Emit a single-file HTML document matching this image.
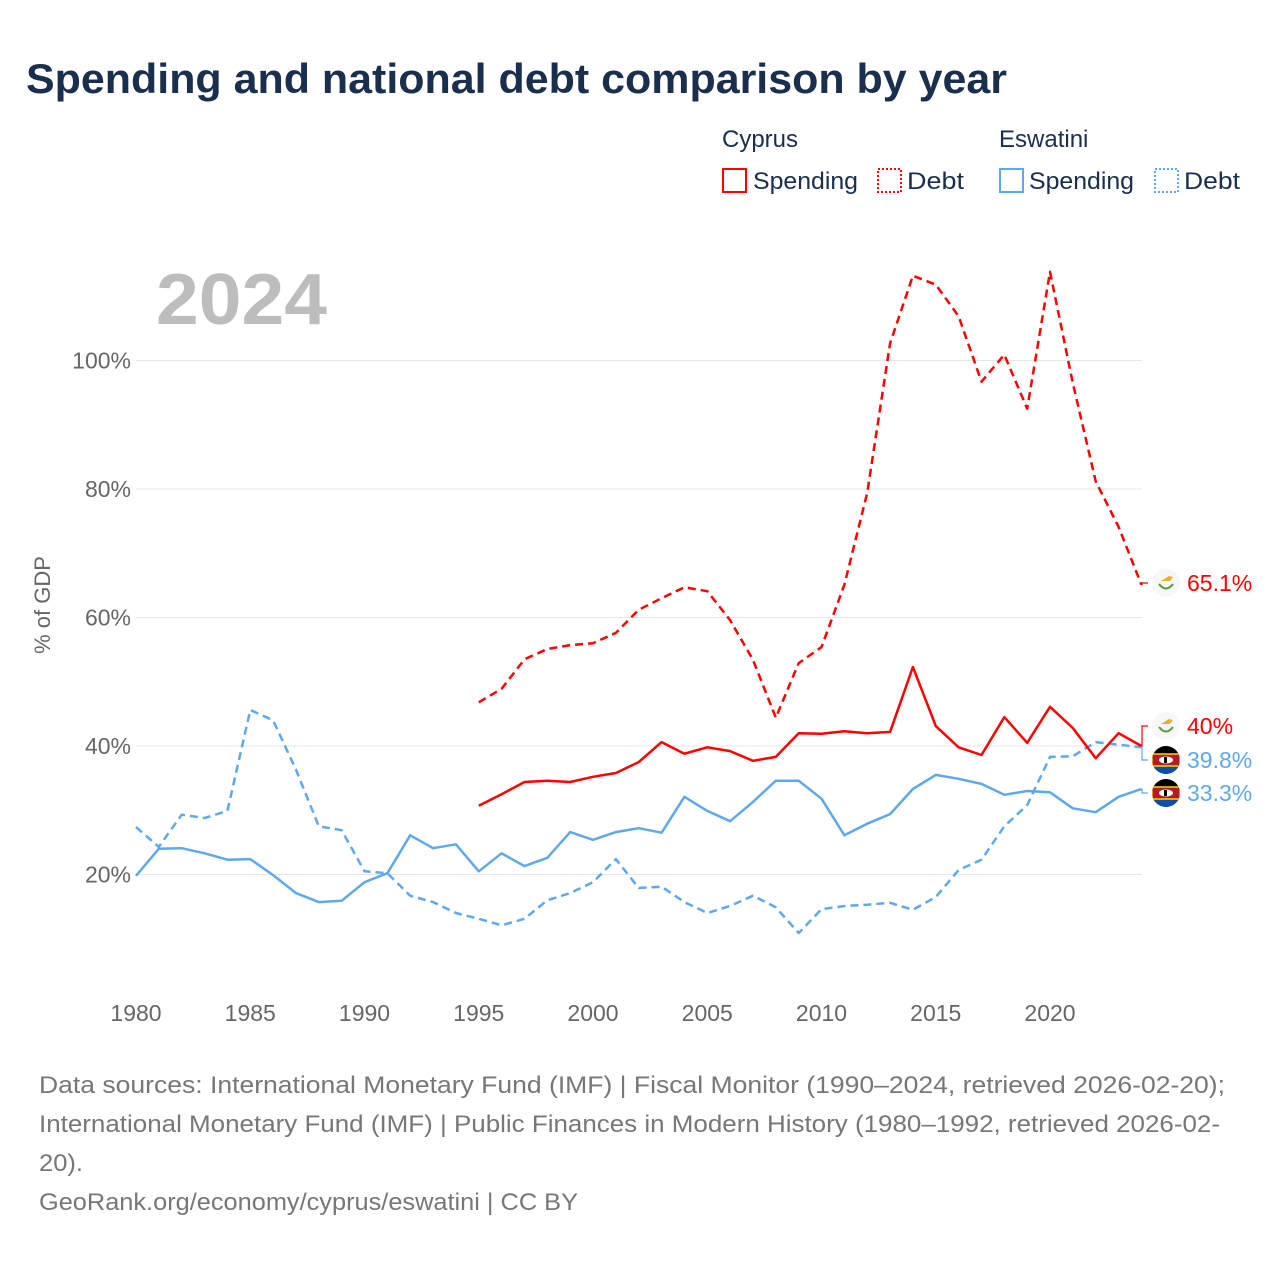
<!DOCTYPE html>
<html><head><meta charset="utf-8"><style>
body{margin:0;background:#fff;font-family:"Liberation Sans",sans-serif;}
svg text{font-family:"Liberation Sans",sans-serif;}
</style></head><body>
<svg id="chart" width="1280" height="1280" viewBox="0 0 1280 1280">
<text x="26" y="93" font-size="42" font-weight="bold" fill="#1a2e4d" textLength="981" lengthAdjust="spacingAndGlyphs">Spending and national debt comparison by year</text>
<g font-size="24" fill="#1a2e4d">
<text x="722" y="147">Cyprus</text>
<text x="999" y="147">Eswatini</text>
<g><rect x="723" y="169" width="23" height="23" fill="none" stroke="#ff0000" stroke-width="2"/><text x="753" y="189" textLength="105" lengthAdjust="spacingAndGlyphs">Spending</text></g>
<g><rect x="878" y="169" width="23" height="23" fill="none" stroke="#ff0000" stroke-width="2" stroke-dasharray="2,2"/><text x="907" y="189" textLength="57" lengthAdjust="spacingAndGlyphs">Debt</text></g>
<g><rect x="1000" y="169" width="23" height="23" fill="none" stroke="#5fa8ee" stroke-width="2"/><text x="1029" y="189" textLength="105" lengthAdjust="spacingAndGlyphs">Spending</text></g>
<g><rect x="1155" y="169" width="23" height="23" fill="none" stroke="#5fa8ee" stroke-width="2" stroke-dasharray="2,2"/><text x="1184" y="189" textLength="56" lengthAdjust="spacingAndGlyphs">Debt</text></g>
</g>
<text x="156" y="324" font-size="72" font-weight="bold" fill="#bdbdbd" textLength="171" lengthAdjust="spacingAndGlyphs">2024</text>
<text transform="translate(50,605) rotate(-90)" text-anchor="middle" font-size="22" fill="#666">% of GDP</text>
<g id="grid"></g><g id="yticks"></g><g id="xticks"></g><g id="series"></g><g id="labels"></g>
<g font-size="24" fill="#777">
<text x="39" y="1093" textLength="1186" lengthAdjust="spacingAndGlyphs">Data sources: International Monetary Fund (IMF) | Fiscal Monitor (1990–2024, retrieved 2026-02-20);</text>
<text x="39" y="1132" textLength="1181" lengthAdjust="spacingAndGlyphs">International Monetary Fund (IMF) | Public Finances in Modern History (1980–1992, retrieved 2026-02-</text>
<text x="39" y="1171" textLength="44" lengthAdjust="spacingAndGlyphs">20).</text>
<text x="39" y="1210" textLength="539" lengthAdjust="spacingAndGlyphs">GeoRank.org/economy/cyprus/eswatini | CC BY</text>
</g>
</svg>
<script>
const yTicks=[20,40,60,80,100];
const xTicks=[1980,1985,1990,1995,2000,2005,2010,2015,2020];
const eswYears=[1980,1981,1982,1983,1984,1985,1986,1987,1988,1989,1990,1991,1992,1993,1994,1995,1996,1997,1998,1999,2000,2001,2002,2003,2004,2005,2006,2007,2008,2009,2010,2011,2012,2013,2014,2015,2016,2017,2018,2019,2020,2021,2022,2023,2024];
const eswSpending=[19.8,24,24.1,23.3,22.3,22.4,19.9,17.1,15.7,15.9,18.8,20.2,26.1,24.1,24.7,20.5,23.3,21.3,22.6,26.6,25.4,26.6,27.2,26.5,32.1,29.9,28.3,31.3,34.6,34.6,31.8,26.1,27.9,29.4,33.3,35.5,34.9,34.1,32.4,33,32.8,30.3,29.7,32.1,33.3];
const eswDebt=[27.4,24.3,29.3,28.8,29.9,45.6,44,36.3,27.5,26.9,20.5,20.2,16.7,15.7,14,13.1,12.1,13.1,16,17.1,18.8,22.4,17.9,18.1,15.7,14,15.1,16.7,14.9,10.9,14.6,15.1,15.3,15.6,14.5,16.5,20.7,22.3,27.5,30.8,38.3,38.4,40.6,40.2,39.8];
const cypYears=[1995,1996,1997,1998,1999,2000,2001,2002,2003,2004,2005,2006,2007,2008,2009,2010,2011,2012,2013,2014,2015,2016,2017,2018,2019,2020,2021,2022,2023,2024];
const cypSpending=[30.7,32.5,34.4,34.6,34.4,35.2,35.8,37.5,40.6,38.8,39.8,39.2,37.7,38.3,42,41.9,42.3,42,42.2,52.3,43.1,39.8,38.6,44.5,40.5,46.1,42.8,38.1,42,40];
const cypDebt=[46.8,48.9,53.5,55.1,55.7,56,57.6,61.2,63,64.7,64.1,59.6,53.4,44.4,52.9,55.4,65.1,79.4,102.7,113.2,111.8,106.9,96.7,100.9,92.5,113.8,96.5,81.2,74.1,65.1];
const NS='http://www.w3.org/2000/svg';
const X=y=>136+(y-1980)*22.85;
const Y=v=>1003-v*6.425;
function mk(t,a,p){const e=document.createElementNS(NS,t);for(const k in a)e.setAttribute(k,a[k]);p.appendChild(e);return e;}
const grid=document.getElementById('grid'),yt=document.getElementById('yticks'),xt=document.getElementById('xticks'),ser=document.getElementById('series'),lab=document.getElementById('labels');
yTicks.forEach(v=>{
 const l=mk('line',{x1:136,x2:1142,y1:Y(v),y2:Y(v),stroke:'#e6e6e6','stroke-width':1},grid);
 
 
 const t=mk('text',{x:131,y:Y(v)+8,'text-anchor':'end','font-size':23,fill:'#666'},yt);t.textContent=v+'%';
 
 
});
xTicks.forEach(v=>{
 const t=mk('text',{x:X(v),y:1021,'text-anchor':'middle','font-size':23,fill:'#666'},xt);t.textContent=v;
 
 
});
function line(yrs,vals,color,dash,name){
 const d=yrs.map((y,i)=>(i?'L':'M')+X(y).toFixed(1)+','+Y(vals[i]).toFixed(1)).join('');
 const a={d:d,fill:'none',stroke:color,'stroke-width':2.5,'stroke-linejoin':'round'};
 if(dash)a['stroke-dasharray']='8,5';
 const p=mk('path',a,ser);
 
 
}
line(eswYears,eswDebt,'#5fa8ee',true,'eswatini-debt-line');
line(eswYears,eswSpending,'#5fa8ee',false,'eswatini-spending-line');
line(cypYears,cypDebt,'#ff0000',true,'cyprus-debt-line');
line(cypYears,cypSpending,'#ff0000',false,'cyprus-spending-line');
const endX=X(2024);
const ends=[
 {v:cypDebt[cypDebt.length-1],ly:583,c:'#ff0000',txt:'65.1%',f:'cy',n:'cyprus-debt-label'},
 {v:cypSpending[cypSpending.length-1],ly:726,c:'#ff0000',txt:'40%',f:'cy',n:'cyprus-spending-label'},
 {v:eswDebt[eswDebt.length-1],ly:760,c:'#5fa8ee',txt:'39.8%',f:'sz',n:'eswatini-debt-label'},
 {v:eswSpending[eswSpending.length-1],ly:793,c:'#5fa8ee',txt:'33.3%',f:'sz',n:'eswatini-spending-label'}];
ends.forEach(e=>{
 const g=mk('g',{},lab);
 
 
 mk('path',{d:`M${endX},${Y(e.v)}H1142V${e.ly}H1148`,fill:'none',stroke:e.c,'stroke-width':1.2},g);
 const cx=1166,cy=e.ly;
 if(e.f==='cy'){
  mk('circle',{cx:cx,cy:cy,r:14,fill:'#f7f7f7'},g);
  mk('path',{d:`M${cx-5},${cy-2}l8,-5l4,1l-3,4z`,fill:'#e8b030'},g);
  mk('path',{d:`M${cx-7},${cy+1}q7,9 14,0`,fill:'none',stroke:'#5a9a3a','stroke-width':2},g);
 } else {
  const cl='c'+cy;
  const dd=mk('defs',{},g);const cp=mk('clipPath',{id:cl},dd);mk('circle',{cx:cx,cy:cy,r:14},cp);
  const gg=mk('g',{'clip-path':`url(#${cl})`},g);
  mk('rect',{x:cx-14,y:cy-14,width:28,height:28,fill:'#000'},gg);
  mk('rect',{x:cx-14,y:cy+4,width:28,height:10,fill:'#0a4fb0'},gg);
  mk('rect',{x:cx-14,y:cy-6,width:28,height:12,fill:'#b51a2a',stroke:'#ffd200','stroke-width':1.5},gg);
  mk('ellipse',{cx:cx,cy:cy,rx:7,ry:3.5,fill:'#fff'},gg);
  mk('rect',{x:cx-2,y:cy-3,width:3,height:6,fill:'#000'},gg);
 }
 const t=mk('text',{x:1187,y:e.ly+8,'font-size':23,fill:e.c},g);t.textContent=e.txt;
});
</script>
</body></html>
